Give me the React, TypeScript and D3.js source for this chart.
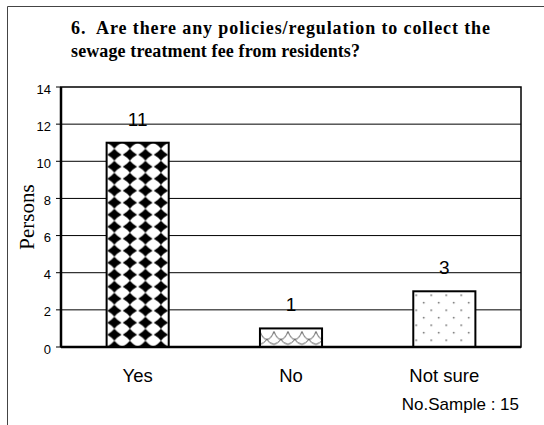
import React from "react";
import * as d3 from "d3";

const categories = ["Yes", "No", "Not sure"];
const values = [11, 1, 3];
const yTicks = [0, 2, 4, 6, 8, 10, 12, 14];
const titleLines = [
  "6.  Are there any policies/regulation to collect the",
  "sewage treatment fee from residents?",
];
const yLabel = "Persons";
const note = "No.Sample : 15";
const patterns = ["pDiamond", "pScale", "pDots"];

const W = 544;
const H = 425;
const plot = { left: 61, right: 521, top: 87, bottom: 347 };

export default function App() {
  const x = d3
    .scaleBand<string>()
    .domain(categories)
    .range([plot.left, plot.right])
    .paddingInner(0.595)
    .paddingOuter(0.2975);
  const y = d3.scaleLinear().domain([0, 14]).range([plot.bottom, plot.top]);
  const bw = x.bandwidth();

  const dw = bw / 4;
  const dh = 12;
  const k = 0.4;
  const diamond = (cx: number, cy: number, rx: number, ry: number) =>
    `M${cx},${cy - ry} Q${cx + rx * k},${cy - ry * k} ${cx + rx},${cy} Q${cx + rx * k},${cy + ry * k} ${cx},${cy + ry} Q${cx - rx * k},${cy + ry * k} ${cx - rx},${cy} Q${cx - rx * k},${cy - ry * k} ${cx},${cy - ry} Z`;

  const yesX = x("Yes") as number;
  const noX = x("No") as number;
  const nsX = x("Not sure") as number;

  return (
    <svg
      width={W}
      height={H}
      style={{ position: "absolute", left: 0, top: 0, background: "#fff" }}
      fontFamily="Arial, 'Liberation Sans', sans-serif"
    >
      <defs>
        <pattern
          id="pDiamond"
          patternUnits="userSpaceOnUse"
          x={yesX}
          y={y(values[0]) - dh / 2}
          width={dw}
          height={dh}
        >
          <rect width={dw} height={dh} fill="#fff" />
          <path d={diamond(dw / 2, dh / 2, dw * 0.46, dh * 0.5)} fill="#000" />
        </pattern>
        <pattern
          id="pScale"
          patternUnits="userSpaceOnUse"
          x={noX}
          y={y(values[1])}
          width={14}
          height={19}
        >
          <rect width={14} height={19} fill="#fff" />
          <path
            d="M0,3 Q3,11 7,11 Q11,11 14,3 M7,11 Q9,15 14,16 M0,16 Q4,15 7,11"
            fill="none"
            stroke="#555"
            strokeWidth={1}
          />
        </pattern>
        <pattern
          id="pDots"
          patternUnits="userSpaceOnUse"
          x={nsX}
          y={y(values[2])}
          width={15}
          height={15}
        >
          <rect width={15} height={15} fill="#fff" />
          <circle cx={3} cy={4} r={0.8} fill="#333" />
          <circle cx={10.5} cy={11.5} r={0.8} fill="#333" />
        </pattern>
      </defs>

      {/* outer frame */}
      <path d={`M7.5,${H + 5} V6.5 H${W + 5}`} fill="none" stroke="#444" strokeWidth={1} />

      {/* title */}
      {titleLines.map((t, i) => (
        <text
          key={i}
          x={71}
          y={33.5 + i * 23.5}
          fontFamily="'Liberation Serif', 'Times New Roman', serif"
          fontWeight="bold"
          fontSize={18}
          textLength={i === 0 ? 419 : 289}
          lengthAdjust="spacing"
          style={{ whiteSpace: "pre" }}
          fill="#000"
        >
          {t}
        </text>
      ))}

      {/* gridlines */}
      {yTicks
        .filter((t) => t > 0 && t < 14)
        .map((t) => (
          <line key={t} x1={plot.left} x2={plot.right} y1={y(t)} y2={y(t)} stroke="#000" strokeWidth={1} />
        ))}

      {/* tick marks and labels */}
      {yTicks.map((t) => (
        <g key={t}>
          <line x1={plot.left - 5} x2={plot.left} y1={y(t)} y2={y(t)} stroke="#000" strokeWidth={1} />
          <text x={51} y={y(t) + 6.5} textAnchor="end" fontSize={13} fill="#000">
            {t}
          </text>
        </g>
      ))}

      {/* bars */}
      {categories.map((c, i) => (
        <rect
          key={c}
          x={x(c)}
          y={y(values[i])}
          width={bw}
          height={y(0) - y(values[i])}
          fill={`url(#${patterns[i]})`}
          stroke="#000"
          strokeWidth={2}
        />
      ))}

      {/* plot border */}
      <rect
        x={plot.left}
        y={plot.top}
        width={plot.right - plot.left}
        height={plot.bottom - plot.top}
        fill="none"
        stroke="#000"
        strokeWidth={1.5}
      />
      <line x1={plot.left} x2={plot.left} y1={plot.top} y2={plot.bottom} stroke="#000" strokeWidth={2.5} />
      <line x1={plot.left} x2={plot.right} y1={plot.bottom} y2={plot.bottom} stroke="#000" strokeWidth={2.5} />

      {/* value labels */}
      {categories.map((c, i) => (
        <text
          key={c}
          x={(x(c) as number) + bw / 2}
          y={y(values[i]) - 17}
          textAnchor="middle"
          fontSize={19}
          fill="#000"
        >
          {values[i]}
        </text>
      ))}

      {/* category labels */}
      {categories.map((c) => (
        <text key={c} x={(x(c) as number) + bw / 2} y={382} textAnchor="middle" fontSize={18.5} fill="#000">
          {c}
        </text>
      ))}

      {/* y label */}
      <text
        transform={`translate(33.5, ${(plot.top + plot.bottom) / 2}) rotate(-90)`}
        textAnchor="middle"
        fontFamily="'Liberation Serif', 'Times New Roman', serif"
        fontSize={21}
        fill="#000"
      >
        {yLabel}
      </text>

      {/* note */}
      <text x={519} y={410} textAnchor="end" fontSize={17} fill="#000">
        {note}
      </text>
    </svg>
  );
}
